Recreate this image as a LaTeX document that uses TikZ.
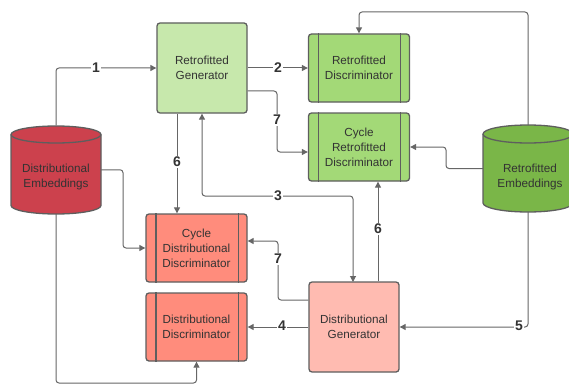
\documentclass[tikz,border=0pt]{standalone}
\usepackage{fontspec}
\setmainfont{Liberation Sans}
\usetikzlibrary{arrows.meta,calc}
\definecolor{bordc}{HTML}{5E5E5E}
\definecolor{linec}{HTML}{666666}
\definecolor{txtc}{HTML}{333333}
\definecolor{rgfill}{HTML}{C7E8AC}
\definecolor{rdfill}{HTML}{A3D977}
\definecolor{refill}{HTML}{7AB648}
\definecolor{defill}{HTML}{CC414D}
\definecolor{ddfill}{HTML}{FF8C7C}
\definecolor{dgfill}{HTML}{FFBBB1}
\begin{document}
\begin{tikzpicture}[x=1pt,y=-1pt,
  box/.style={draw=bordc, line width=1.3pt, rounded corners=3pt, align=center,
    text=txtc, font=\fontsize{11.7}{15}\selectfont, inner sep=0pt},
  gen/.style={box, minimum width=90pt, minimum height=90pt},
  disc/.style={box, minimum width=101pt, minimum height=68pt},
  cyl/.style={draw=bordc, line width=1.3pt},
  anch/.style={inner sep=0pt, minimum width=90pt},
  cyltext/.style={align=center, text=txtc, font=\fontsize{11.7}{15}\selectfont, inner sep=0pt},
  conn/.style={draw=linec, line width=1pt, rounded corners=3pt, -{Triangle[length=6pt,width=6pt]}},
  conn2/.style={conn, {Triangle[length=6pt,width=6pt]}-{Triangle[length=6pt,width=6pt]}},
  lab/.style={fill=white, font=\fontsize{14}{14}\selectfont\bfseries, text=txtc, inner sep=1pt}
]
\useasboundingbox (0,0) rectangle (569,385);
\clip (0,0) rectangle (569,385);

% Distributional Embeddings cylinder
\fill[defill] (11,134.5) -- (11,205.5) arc[start angle=180,end angle=0,x radius=45,y radius=8.5] -- (101,134.5) -- cycle;
\draw[cyl] (11,134.5) -- (11,205.5) arc[start angle=180,end angle=0,x radius=45,y radius=8.5] -- (101,134.5);
\draw[cyl, fill=defill] (56,134.5) ellipse[x radius=45, y radius=8.5];
\node[anch, minimum height=88.5pt] (de) at (56,169.75) {};
\node[cyltext] (detext) at (56,177) {Distributional\\Embeddings};

% Retrofitted Embeddings cylinder
\fill[refill] (483,134) -- (483,203) arc[start angle=180,end angle=0,x radius=45,y radius=9] -- (573,134) -- cycle;
\draw[cyl] (483,134) -- (483,203) arc[start angle=180,end angle=0,x radius=45,y radius=9] -- (573,134);
\draw[cyl, fill=refill] (528,134) ellipse[x radius=45, y radius=9];
\node[anch, minimum height=87pt] (re) at (528,168.5) {};
\node[cyltext] (retext) at (530,177) {Retrofitted\\Embeddings};

% boxes
\node[gen, fill=rgfill] (rg) at (202,68) {Retrofitted\\Generator};
\node[disc, fill=rdfill] (rd) at (359,68) {Retrofitted\\Discriminator};
\node[disc, fill=rdfill] (crd) at (359,147) {Cycle\\Retrofitted\\Discriminator};
\node[disc, fill=ddfill] (cdd) at (196.5,248) {Cycle\\Distributional\\Discriminator};
\node[disc, fill=ddfill] (dd) at (196.5,327) {Distributional\\Discriminator};
\node[gen, fill=dgfill] (dg) at (354,327) {Distributional\\Generator};

\foreach \n in {rd,crd,cdd,dd}{
  \draw[bordc, line width=1.3pt] ([xshift=10.5pt]\n.north west) -- ([xshift=10.5pt]\n.south west);
  \draw[bordc, line width=1.3pt] ([xshift=-9.5pt]\n.north east) -- ([xshift=-9.5pt]\n.south east);
}

% connectors
\draw[conn] (de.north) |- (rg.west);
\draw[conn] (rg.east) -- (rd.west);
\draw[conn] ([yshift=-23pt]rg.east) -- (277,91) -- (277,152) -- ([yshift=-5pt]crd.west);
\draw[conn] ([xshift=-25pt]rg.south) -- ([xshift=-25pt]rg.south |- cdd.north);
\draw[conn2] (rg.south) -- (202,196) -- (353,196) -- (353,282);
\draw[conn] ([xshift=24pt]dg.north) -- ([xshift=24pt]dg.north |- crd.south);
\draw[conn] ([yshift=27pt]dg.west) -- (278,300) -- (278,241) -- ([yshift=7pt]cdd.east);
\draw[conn] (dg.west) -- (dd.east);
\draw[conn] (re.south) |- (dg.east);
\draw[conn] (de.east) -- (123,169.75) -- (123,248) -- (cdd.west);
\draw[conn] (de.south) -- (56,383) -- (196.5,383) -- (dd.south);
\draw[conn] (re.north) -- (528,12) -- (359,12) -- (rd.north);
\draw[conn] (re.west) -- (446,168.5) -- (446,147) -- (crd.east);

% labels
\node[lab] (l1) at (96,68) {1};
\node[lab] (l2) at (278,68) {2};
\node[lab] (l7a) at (277,120) {7};
\node[lab] (l6a) at (177,162) {6};
\node[lab] (l3) at (278,196) {3};
\node[lab] (l6b) at (378,229) {6};
\node[lab] (l7b) at (278,259) {7};
\node[lab] (l4) at (282,326) {4};
\node[lab] (l5) at (519,326) {5};
\end{tikzpicture}
\end{document}
